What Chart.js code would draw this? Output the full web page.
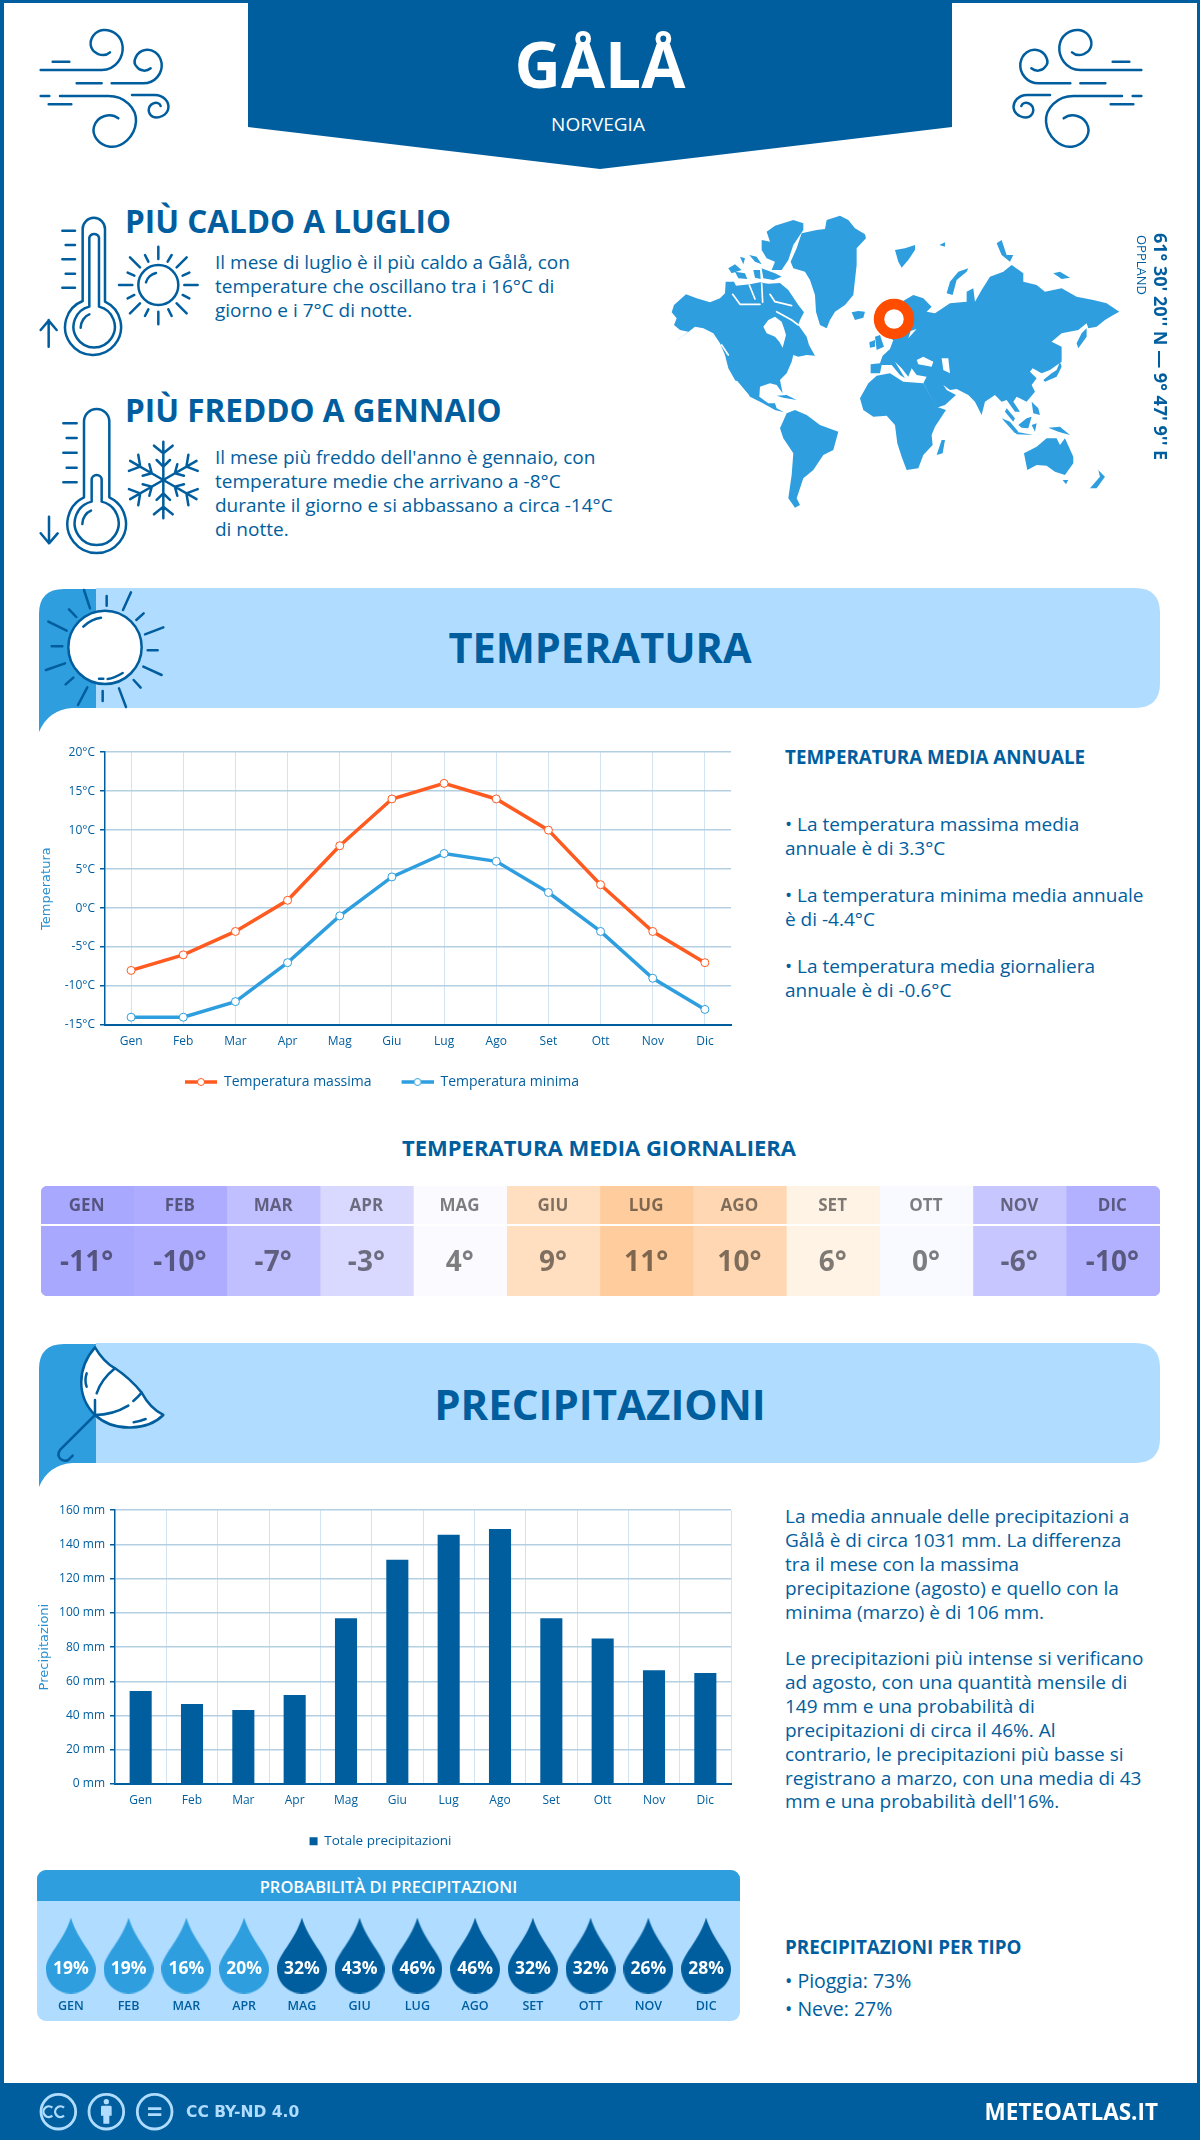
<!DOCTYPE html>
<html lang="it">
<head>
<meta charset="utf-8">
<title>Gålå - Norvegia</title>
<script src="https://cdn.jsdelivr.net/npm/chart.js@4/dist/chart.umd.min.js"></script>
<style>
  html, body { margin: 0; padding: 0; background: #fff; overflow: hidden; }
  #page { position: relative; width: 1200px; height: 2140px; overflow: hidden; background: #fff; font-family: "Open Sans", sans-serif; color: #005e9e; }
  #frame { position: absolute; inset: 0; border: solid #005e9e; border-width: 3px 3px 0 4px; }
  .t { position: absolute; white-space: nowrap; }
  .h1 { font-size: 31.5px; font-weight: 700; line-height: 40px; }
  .h2 { font-size: 42px; font-weight: 700; line-height: 50px; left: 0; width: 1200px; text-align: center; }
  .h3 { font-size: 18.8px; font-weight: 700; line-height: 26px; }
  .p { font-size: 19px; line-height: 24px; }
  canvas { position: absolute; display: block; }
  svg { position: absolute; left: 0; top: 0; }
  #banner { position: absolute; left: 248px; top: 0; width: 704px; height: 169px; background: #005e9e; clip-path: polygon(0 0, 100% 0, 100% 127px, 50% 100%, 0 127px); }
  #foot { position: absolute; left: 0; top: 2083px; width: 1200px; height: 57px; background: #005e9e; }
  #probBox { position: absolute; left: 37px; top: 1870px; width: 703px; height: 151px; background: #b0dcff; border-radius: 9px; overflow: hidden; }
  #probHead { height: 31px; line-height: 33px; background: #2e9edf; color: #fff; font-size: 16.5px; font-weight: 600; text-align: center; }
</style>
</head>
<body>
<div id="page">
  <div id="frame"></div>
  <div id="banner"></div>
  <div class="t" style="left:0;width:1200px;text-align:center;top:19px;font-size:64px;font-weight:700;line-height:90px;color:#fff">GÅLÅ</div>
  <div class="t" style="left:-2px;width:1200px;text-align:center;top:112px;font-size:19px;line-height:24px;color:#fff">NORVEGIA</div>

  <div class="t h1" style="left:125px;top:201px">PIÙ CALDO A LUGLIO</div>
  <div class="t p" style="left:215px;top:250px">Il mese di luglio è il più caldo a Gålå, con<br>temperature che oscillano tra i 16°C di<br>giorno e i 7°C di notte.</div>
  <div class="t h1" style="left:125px;top:390px">PIÙ FREDDO A GENNAIO</div>
  <div class="t p" style="left:215px;top:445px">Il mese più freddo dell'anno è gennaio, con<br>temperature medie che arrivano a -8°C<br>durante il giorno e si abbassano a circa -14°C<br>di notte.</div>

  <svg width="1200" height="2140" viewBox="0 0 1200 2140" fill="none" stroke="#005e9e" stroke-linecap="round" stroke-linejoin="round">
    <defs>
      <g id="wind" stroke-width="7.5">
        <path d="M32,150 H215 C260,150 280,110 278,80 C275,45 245,28 220,30 C195,32 180,55 182,75 C185,100 220,115 240,97"/>
        <path d="M68,125 H118 M140,190 H215"/>
        <path d="M245,190 H340 C375,190 398,160 395,130 C390,100 365,85 345,90 C320,95 305,125 320,140 C330,155 350,155 362,145"/>
        <path d="M32,228 H58 M56,253 H124"/>
        <path d="M90,228 H235 C285,228 320,265 318,305 C315,350 275,385 240,380 C205,375 185,345 192,320 C200,290 240,275 265,295"/>
        <path d="M306,225 H375 C400,225 418,245 415,265 C412,285 385,298 368,290 C352,280 352,258 370,250 C380,246 390,250 392,258"/>
      </g>
      <g id="arm">
        <path d="M400,240 V125 M372,137 L400,160 L428,137 M380,180 L400,200 L420,180"/>
      </g>
    </defs>
    <use href="#wind" transform="translate(30 20) scale(.3333)"/>
    <use href="#wind" transform="translate(1152 20) scale(-.3333 .3333)"/>

    <g transform="translate(30 205) scale(.3333)" stroke-width="7.5">
      <path d="M158,288 V72 A33,33 0 0 1 225,72 V290 A84,84 0 1 1 158,288 Z"/>
      <path d="M178,305 V98 A15,15 0 0 1 207,98 V305 A62,62 0 1 1 178,305 Z"/>
      <path d="M152,368 C152,350 165,332 178,328"/>
      <path d="M97,77 H135 M107,120 H135 M97,163 H135 M107,206 H135 M97,248 H135"/>
      <path d="M56,425 V345 M32,375 L56,347 L80,375"/>
      <circle cx="385" cy="240" r="60"/>
      <path d="M348,232 C352,218 365,207 378,204"/>
      <path d="M385,125 V162 M385,320 V358 M267,240 H307 M463,240 H503 M300,157 L330,187 M440,187 L470,157 M300,325 L330,295 M440,295 L470,325 M345,150 L355,170 M425,150 L413,170 M293,203 L313,212 M478,203 L458,212 M293,280 L313,270 M478,280 L458,270 M345,333 L355,313 M425,333 L415,313"/>
    </g>

    <g transform="translate(30 400) scale(.3333)" stroke-width="7.5">
      <path d="M162,292 V65 A38,38 0 0 1 238,65 V292 A88,88 0 1 1 162,292 Z"/>
      <path d="M185,305 V240 A15,15 0 0 1 215,240 V305 A66,66 0 1 1 185,305 Z"/>
      <path d="M157,372 C157,352 170,337 183,332"/>
      <path d="M100,70 H140 M110,114 H140 M100,158 H140 M110,203 H140 M100,247 H140"/>
      <path d="M57,350 V430 M32,400 L57,430 L83,400"/>
      <use href="#arm"/>
      <use href="#arm" transform="rotate(60 400 240)"/>
      <use href="#arm" transform="rotate(120 400 240)"/>
      <use href="#arm" transform="rotate(180 400 240)"/>
      <use href="#arm" transform="rotate(240 400 240)"/>
      <use href="#arm" transform="rotate(300 400 240)"/>
    </g>

    <!-- mappa -->
    <g transform="translate(660 205) scale(.3333)" fill="#2e9edf" stroke="none">
      <path d="M35,322 42,300 78,268 110,280 150,292 180,280 195,265 197,230 222,230 228,242 270,238 300,232 325,236 360,234 385,255 415,300 432,322 420,345 415,360 440,395 447,420 465,452 440,450 415,455 400,450 395,470 380,505 360,525 368,565 350,540 330,535 300,545 298,575 325,595 345,595 350,610 372,622 345,615 300,590 270,575 240,540 225,525 205,490 195,450 180,415 160,385 130,370 105,365 80,385 45,410 85,380 60,375 42,360 50,340Z"/>
      <path d="M205,190 225,178 245,195 215,205Z M225,200 255,205 262,222 235,220Z M280,195 300,195 302,222 285,218Z M305,190 345,205 365,215 340,225 310,220Z M240,155 255,160 250,178Z M268,150 290,155 305,178 285,170Z"/>
      <path d="M320,80 345,62 400,45 430,55 430,75 400,120 385,165 365,195 335,195 345,170 320,160 305,135 305,105 330,110Z"/>
      <path d="M392,170 410,130 425,85 470,75 495,72 500,45 540,32 565,45 585,70 615,88 618,100 590,130 590,180 580,270 555,300 525,320 510,345 500,370 480,360 468,320 465,270 450,225 435,200 400,190Z"/>
      <path d="M575,322 595,318 615,320 610,338 585,345Z M705,135 735,130 765,120 765,135 745,165 725,188 715,170Z M838,120 855,112 855,125Z M1010,115 1025,105 1040,150 1060,150 1050,170 1025,150Z M1180,205 1200,200 1230,218 1205,222Z"/>
      <path d="M860,265 870,230 895,200 925,190 920,200 890,225 878,270Z"/>
      <path d="M632,505 632,478 660,475 668,452 690,432 700,405 680,395 650,345 700,305 760,270 790,280 815,305 800,320 825,325 870,295 920,290 920,260 940,250 945,290 965,255 990,215 1030,200 1055,180 1090,205 1090,230 1130,240 1155,260 1205,250 1250,275 1300,285 1340,295 1378,320 1360,330 1335,345 1310,365 1285,370 1280,355 1255,375 1205,385 1175,410 1205,425 1205,470 1170,495 1145,505 1118,490 1110,500 1130,520 1115,540 1125,560 1100,590 1070,575 1060,590 1080,620 1065,620 1040,585 1025,590 1005,570 975,590 965,630 945,590 925,570 890,552 870,555 850,540 860,555 888,570 855,600 830,608 790,535 800,515 770,510 755,490 745,515 725,490 705,470 735,520 720,510 695,480 665,480 660,505Z"/>
      <path d="M645,395 660,390 672,425 650,435Z M628,412 645,405 645,425 630,428Z"/>
      <path d="M600,580 625,535 650,512 690,505 730,530 790,535 830,605 858,615 825,665 815,690 818,720 790,750 775,790 740,795 725,755 712,715 705,660 680,632 640,635 610,615Z"/>
      <path d="M830,750 845,705 855,705 848,745Z"/>
      <path d="M360,670 380,625 405,615 440,630 480,660 535,680 520,735 490,750 460,795 430,820 410,880 420,900 405,908 385,880 395,810 400,745 370,700Z"/>
      <path d="M350,572 380,570 410,585 370,578Z"/>
      <path d="M1250,415 1265,385 1280,370 1280,395 1255,430Z M1150,525 1175,505 1190,495 1200,470 1205,485 1190,515 1155,530Z"/>
      <path d="M1040,610 1065,640 1060,650 1035,620Z M1025,640 1050,650 1075,680 1065,685Z M1075,660 1100,640 1115,635 1105,670 1085,668Z M1065,680 1120,690 1070,688Z M1115,660 1130,655 1125,680Z M1115,590 1135,610 1140,630 1120,625Z M1165,668 1200,665 1230,690 1195,680Z"/>
      <path d="M1092,745 1130,725 1160,700 1190,700 1200,720 1215,700 1240,755 1240,775 1215,810 1185,800 1160,782 1130,780 1102,795Z M1208,825 1225,825 1218,838Z M1290,850 1320,815 1315,795 1335,815 1310,850Z"/>
      <path fill="#fff" d="M310,365 325,345 345,335 365,350 372,370 378,390 368,428 358,410 345,395 320,385Z M770,465 790,455 820,470 815,485 775,478Z M845,460 865,460 870,505 850,495Z M745,400 770,372 752,378Z"/>
      <path fill="none" stroke="#fff" stroke-width="5" stroke-linecap="round" d="M218,268 240,298 300,298 M268,240 285,282 M305,236 308,292 M330,268 345,290 395,302 M350,320 395,345 415,360 M185,420 205,450 M230,530 265,572"/>
    </g>
    <circle cx="894" cy="319" r="15" stroke="#ff4d00" stroke-width="10.5" fill="#fff"/>

    <!-- fasce di sezione -->
    <path d="M96,588 H1135 Q1160,588 1160,613 V683 Q1160,708 1135,708 H96 Z" fill="#b0dcff" stroke="none"/>
    <path d="M39,732 V614 Q39,589 64,589 H96 V708 H72 Q48,710 39,732 Z" fill="#2e9edf" stroke="none"/>
    <path d="M96,1343 H1135 Q1160,1343 1160,1368 V1438 Q1160,1463 1135,1463 H96 Z" fill="#b0dcff" stroke="none"/>
    <path d="M39,1487 V1369 Q39,1344 64,1344 H96 V1463 H72 Q48,1465 39,1487 Z" fill="#2e9edf" stroke="none"/>

    <g transform="translate(35 585) scale(.3333)" stroke-width="7.5">
      <circle cx="210" cy="187" r="110" fill="#fff"/>
      <path d="M145,125 C160,110 180,100 198,98 M218,282 C235,280 250,272 263,264 M192,281 H205"/>
      <path d="M147,15 L165,70 M215,33 V62 M288,22 L264,75 M326,85 L304,105 M385,127 L330,148 M338,196 H368 M325,245 L380,270 M296,285 L317,308 M252,310 L273,366 M203,318 V348 M157,307 L129,360 M115,278 L92,298 M90,235 L33,255 M82,184 H50 M95,137 L40,110 M124,96 L102,73"/>
    </g>
    <g transform="translate(35 1340) scale(.3333)" stroke-width="7.5">
      <path d="M180,22 Q205,65 240,85 Q285,115 320,158 Q345,205 385,225 C340,270 240,280 180,225 C125,170 125,85 180,22 Z" fill="#fff"/>
      <path d="M240,85 C215,105 195,130 185,160 M180,180 V225 M320,158 C310,170 305,175 295,183 M280,197 C250,215 215,225 180,225"/>
      <path d="M180,225 L75,330 C62,350 80,368 100,360 L113,347"/>
      <path d="M155,100 C150,115 150,128 155,140 M296,247 C312,245 322,241 332,237"/>
    </g>
  </svg>

  <div class="t h2" style="top:622px;font-size:41.5px">TEMPERATURA</div>
  <div class="t h2" style="top:1379px">PRECIPITAZIONI</div>

  <canvas id="tempChart" width="732" height="359" style="left:13px;top:740px"></canvas>

  <div class="t h3" style="left:785px;top:744px">TEMPERATURA MEDIA ANNUALE</div>
  <div class="t p" style="left:785px;top:813px;line-height:23.5px">• La temperatura massima media<br>annuale è di 3.3°C</div>
  <div class="t p" style="left:785px;top:884px;line-height:23.5px">• La temperatura minima media annuale<br>è di -4.4°C</div>
  <div class="t p" style="left:785px;top:955px;line-height:23.5px">• La temperatura media giornaliera<br>annuale è di -0.6°C</div>

  <div class="t" style="left:0;width:1198px;text-align:center;top:1132px;font-size:22px;font-weight:700;line-height:30px">TEMPERATURA MEDIA GIORNALIERA</div>
  <canvas id="dailyChart" width="1119" height="110" style="left:41px;top:1186px"></canvas>

  <canvas id="rainChart" width="715" height="360" style="left:30px;top:1498px"></canvas>

  <div class="t p" style="left:785px;top:1505px;line-height:23.9px">La media annuale delle precipitazioni a<br>Gålå è di circa 1031 mm. La differenza<br>tra il mese con la massima<br>precipitazione (agosto) e quello con la<br>minima (marzo) è di 106 mm.</div>
  <div class="t p" style="left:785px;top:1647px;line-height:23.9px">Le precipitazioni più intense si verificano<br>ad agosto, con una quantità mensile di<br>149 mm e una probabilità di<br>precipitazioni di circa il 46%. Al<br>contrario, le precipitazioni più basse si<br>registrano a marzo, con una media di 43<br>mm e una probabilità dell'16%.</div>

  <div id="probBox"><div id="probHead">PROBABILITÀ DI PRECIPITAZIONI</div></div>
  <canvas id="probChart" width="703" height="113" style="left:37px;top:1908px"></canvas>

  <div class="t h3" style="left:785px;top:1934px">PRECIPITAZIONI PER TIPO</div>
  <div class="t p" style="left:785px;top:1969px;font-size:19.5px">• Pioggia: 73%</div>
  <div class="t p" style="left:785px;top:1997px;font-size:19.5px">• Neve: 27%</div>

  <div id="foot"></div>
  <svg width="1200" height="2140" viewBox="0 0 1200 2140" fill="none" stroke="#b0dcff">
    <g transform="translate(30 2085) scale(.3333)" stroke-width="8.5">
      <circle cx="85" cy="80" r="52"/>
      <circle cx="229" cy="80" r="52"/>
      <circle cx="374" cy="80" r="52"/>
      <path d="M83,68 A16,16 0 1 0 83,92 M118,68 A16,16 0 1 0 118,92" transform="translate(-16 0)" stroke-width="7"/>
      <circle cx="229" cy="50" r="8" fill="#b0dcff" stroke="none"/>
      <path d="M213,66 Q213,62 218,62 H240 Q245,62 245,66 V92 H238 V116 H220 V92 H213 Z" fill="#b0dcff" stroke="none"/>
      <path d="M354,71 H394 M354,89 H394" stroke-width="8"/>
    </g>
  </svg>
  <div class="t" style="left:186px;top:2100px;font-family:'DejaVu Sans';font-size:15.5px;font-weight:700;line-height:24px;color:#b0dcff">CC BY-ND 4.0</div>
  <div class="t" style="right:42px;top:2094px;font-size:22.5px;font-weight:700;line-height:36px;color:#fff">METEOATLAS.IT</div>

  <div class="t" style="left:1150px;top:233px;writing-mode:vertical-rl;font-size:18px;font-weight:700;line-height:22px">61° 30' 20'' N — 9° 47' 9'' E</div>
  <div class="t" style="left:1134px;top:235px;writing-mode:vertical-rl;font-size:13px;line-height:16px">OPPLAND</div>
</div>

<script>
const months = ["Gen", "Feb", "Mar", "Apr", "Mag", "Giu", "Lug", "Ago", "Set", "Ott", "Nov", "Dic"];
const monthsUpper = ["GEN", "FEB", "MAR", "APR", "MAG", "GIU", "LUG", "AGO", "SET", "OTT", "NOV", "DIC"];
const tempMax = [-8, -6, -3, 1, 8, 14, 16, 14, 10, 3, -3, -7];
const tempMin = [-14, -14, -12, -7, -1, 4, 7, 6, 2, -3, -9, -13];
const tempDaily = [-11, -10, -7, -3, 4, 9, 11, 10, 6, 0, -6, -10];
const rainTotal = [54.3, 46.7, 43.2, 52, 96.8, 131, 145.6, 149, 96.8, 85, 66.5, 64.8];
const rainProb = [19, 19, 16, 20, 32, 43, 46, 46, 32, 32, 26, 28];

const dailyColors = ["#a9a8ff", "#adacff", "#c0bfff", "#d9d8ff", "#fbfbff", "#ffdfc0", "#ffcd9d", "#ffd8b3", "#fff3e6", "#f9faff", "#c7c6ff", "#b2b1ff"];

const blue = "#005e9e";
const midBlue = "#2e9edf";
const orange = "#ff5a1f";
const gridH = "#b4cfe2";
const gridV = "#d3e3ef";

Chart.defaults.font.family = "'Open Sans', sans-serif";
Chart.defaults.font.size = 12;
Chart.defaults.color = blue;
Chart.defaults.animation = false;
Chart.defaults.responsive = false;

// icona della legenda: linea con il punto al centro, il vuoto a sinistra fa da distanza tra le voci
function legendIcon(color) {
    const c = document.createElement("canvas");
    c.width = 52;
    c.height = 12;
    const g = c.getContext("2d");
    g.fillStyle = color;
    g.fillRect(20, 4.25, 32, 3.5);
    g.beginPath();
    g.arc(36, 6, 3.5, 0, Math.PI * 2);
    g.fillStyle = "#fff";
    g.fill();
    g.lineWidth = 1;
    g.strokeStyle = color;
    g.stroke();
    return c;
}

// goccia per la probabilita
function dropIcon(color) {
    const c = document.createElement("canvas");
    c.width = 50;
    c.height = 76;
    const g = c.getContext("2d");
    g.beginPath();
    g.moveTo(25, 0);
    g.bezierCurveTo(32, 24, 50, 38, 50, 51);
    g.bezierCurveTo(50, 65, 39, 76, 25, 76);
    g.bezierCurveTo(11, 76, 0, 65, 0, 51);
    g.bezierCurveTo(0, 38, 18, 24, 25, 0);
    g.fillStyle = color;
    g.fill();
    return c;
}

function axisX(height, gridOffset) {
    return {
        offset: true,
        afterFit: s => { s.height = height; },
        border: { color: blue, width: 2 },
        grid: { color: gridV, lineWidth: 1, drawTicks: false, offset: gridOffset },
        ticks: { padding: 9, maxRotation: 0, autoSkip: false }
    };
}

function axisY(width, title, titlePad, min, max, step, unit) {
    return {
        min: min,
        max: max,
        afterFit: s => { s.width = width; },
        title: { display: true, text: title, color: "#2a8fd0", padding: { top: titlePad, bottom: 0 }, font: { family: "'DejaVu Sans'", size: 13 } },
        border: { color: blue, width: 1.5 },
        grid: { color: gridH, lineWidth: 1.5, tickLength: 5, tickColor: blue },
        ticks: { stepSize: step, padding: 5, callback: v => v + unit }
    };
}

const lineIcons = [legendIcon(orange), legendIcon(midBlue)];

new Chart(document.getElementById("tempChart"), {
    type: "line",
    data: {
        labels: months,
        datasets: [
            { label: "Temperatura massima", data: tempMax, borderColor: orange, borderWidth: 3.5, pointRadius: 4, pointBorderWidth: 1, pointBackgroundColor: "#fff", pointBorderColor: orange, tension: 0 },
            { label: "Temperatura minima", data: tempMin, borderColor: midBlue, borderWidth: 3.5, pointRadius: 4, pointBorderWidth: 1, pointBackgroundColor: "#fff", pointBorderColor: midBlue, tension: 0 }
        ]
    },
    options: {
        layout: { padding: { top: 9, right: 14 } },
        scales: {
            x: axisX(40, false),
            y: axisY(92, "Temperatura", 26, -15, 20, 5, "°C")
        },
        plugins: {
            tooltip: { enabled: false },
            legend: {
                position: "bottom",
                labels: {
                    font: { size: 14 },
                    usePointStyle: true,
                    pointStyleWidth: 52,
                    generateLabels: c => Chart.defaults.plugins.legend.labels.generateLabels(c).map((l, i) => ({ ...l, pointStyle: lineIcons[i] }))
                }
            }
        }
    }
});

new Chart(document.getElementById("rainChart"), {
    type: "bar",
    data: {
        labels: months,
        datasets: [{ label: "Totale precipitazioni", data: rainTotal, backgroundColor: blue, barPercentage: 0.43, categoryPercentage: 1 }]
    },
    options: {
        layout: { padding: { top: 10, right: 14 } },
        scales: {
            x: axisX(40.5, true),
            y: axisY(85, "Precipitazioni", 7, 0, 160, 20, " mm")
        },
        plugins: {
            tooltip: { enabled: false },
            legend: { position: "bottom", labels: { boxWidth: 8, boxHeight: 8, font: { size: 13.5 } } }
        }
    }
});

// striscia delle medie giornaliere: una barra piena per ogni mese
const dailyLabels = {
    id: "dailyLabels",
    afterDatasetsDraw(chart) {
        const g = chart.ctx;
        const x = chart.scales.x;
        g.save();
        g.fillStyle = "#fff";
        g.fillRect(0, 38, chart.width, 2);
        g.textAlign = "center";
        g.textBaseline = "middle";
        g.fillStyle = "rgba(0,0,0,.5)";
        tempDaily.forEach((v, i) => {
            g.font = "700 17px 'Open Sans'";
            g.fillText(monthsUpper[i], x.getPixelForValue(i) - 1, 20);
            g.font = "700 28px 'Open Sans'";
            g.fillText(v + "°", x.getPixelForValue(i) - 1, 77);
        });
        g.restore();
    }
};

new Chart(document.getElementById("dailyChart"), {
    type: "bar",
    data: {
        labels: monthsUpper,
        datasets: [{
            data: tempDaily.map(() => [0, 1]),
            backgroundColor: dailyColors,
            barPercentage: 1,
            categoryPercentage: 1,
            borderSkipped: false,
            borderRadius: c => c.dataIndex === 0 ? { topLeft: 7, bottomLeft: 7 } : c.dataIndex === 11 ? { topRight: 7, bottomRight: 7 } : 0
        }]
    },
    options: {
        scales: { x: { display: false }, y: { display: false, min: 0, max: 1 } },
        plugins: { legend: { display: false }, tooltip: { enabled: false } }
    },
    plugins: [dailyLabels]
});

// gocce: il colore cambia con la probabilita
const dropLight = dropIcon(midBlue);
const dropDark = dropIcon(blue);

const probLabels = {
    id: "probLabels",
    afterDatasetsDraw(chart) {
        const g = chart.ctx;
        const x = chart.scales.x;
        const y = chart.scales.y;
        g.save();
        g.textAlign = "center";
        g.textBaseline = "middle";
        g.fillStyle = "#fff";
        g.font = "700 17.5px 'Open Sans'";
        rainProb.forEach((v, i) => g.fillText(v + "%", x.getPixelForValue(i), y.getPixelForValue(0.5) + 14));
        g.restore();
    }
};

new Chart(document.getElementById("probChart"), {
    type: "line",
    data: {
        labels: monthsUpper,
        datasets: [{
            data: rainProb.map(() => 0.5),
            showLine: false,
            pointStyle: c => rainProb[c.dataIndex] > 20 ? dropDark : dropLight
        }]
    },
    options: {
        scales: {
            x: {
                offset: true,
                afterFit: s => { s.height = 23; },
                border: { display: false },
                grid: { display: false, drawTicks: false },
                ticks: { padding: 1, font: { size: 12.5, weight: "600" }, maxRotation: 0, autoSkip: false }
            },
            y: { display: false, min: 0, max: 1 }
        },
        plugins: { legend: { display: false }, tooltip: { enabled: false } }
    },
    plugins: [probLabels]
});
</script>
</body>
</html>
